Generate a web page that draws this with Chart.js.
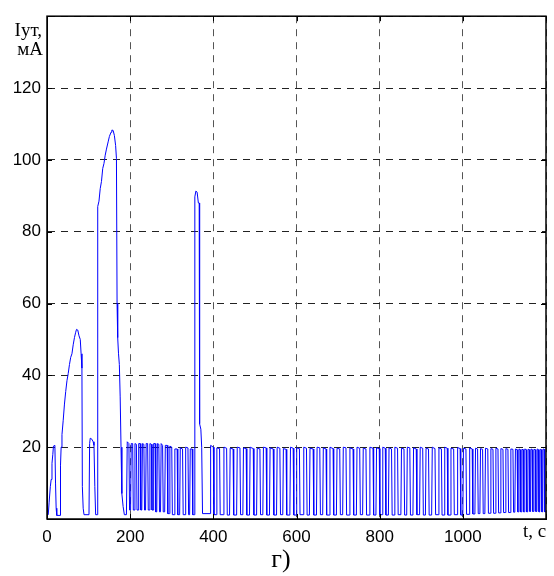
<!DOCTYPE html>
<html>
<head>
<meta charset="utf-8">
<script src="https://cdn.jsdelivr.net/npm/chart.js@4.4.1/dist/chart.umd.min.js"></script>
<style>
    html, body { margin: 0; padding: 0; background: #fff; }
    #wrap { width: 554px; height: 576px; }
</style>
</head>
<body>
<div id="wrap"><canvas id="currentChart" width="554" height="576"></canvas></div>
<script>
var xTicks = [0, 200, 400, 600, 800, 1000, 1200];
var yTicks = [0, 20, 40, 60, 80, 100, 120, 140];
var yAxisLabel = ["Iут,", "мА"];
var xAxisLabel = "t, c";
var panelLabel = "г)";

// time, s  /  current, mA (one row ~ one pulse)
var timeS = [
    0, 3, 5, 8, 10, 12, 14, 15.5, 19, 20.5, 22, 23.5,
    31.5, 32.5, 34, 36, 39, 42, 45, 48, 51, 54, 57, 60, 63, 66, 69, 71, 74, 77, 80, 82, 84, 85, 87, 89,
    101, 102.5, 104, 108, 111, 113, 115, 117, 121,
    122, 125, 128, 131, 134, 137, 140, 143, 147, 150, 154, 156, 159, 162, 165, 167, 168.5, 170, 172, 174, 176, 178, 180, 183, 186,
    191, 193, 197, 198.5,
    201, 202.5, 206, 207.5,
    210, 211.5, 215, 216.5,
    219, 220.5, 224, 225.5,
    228, 229.5, 233, 234.5,
    237, 238.5, 242, 243.5,
    246, 247.5, 251, 252.5,
    255, 256.5, 260, 261.5,
    264, 265.5, 269, 270.5,
    273, 274.5, 278, 279.5,
    283, 284.5, 289, 290.5,
    294, 295.5, 300, 301.5,
    306, 307.5, 313, 314.5,
    319, 320.5, 326, 327.5,
    332, 333.5, 339, 340.5,
    343, 344.5, 349, 350.5,
    354, 355.5, 358, 361, 364, 366, 367, 370, 372, 374,
    392, 393.5, 400, 401.5,
    407, 408.5, 415, 416.5,
    424, 425.5, 432, 433.5,
    439, 440.5, 447.5, 449,
    456, 457.5, 464, 465.5,
    471, 472.5, 479, 480.5,
    487, 488.5, 496, 497.5,
    504, 505.5, 512, 513.5,
    519, 520.5, 527, 528.5,
    535, 536.5, 544, 545.5,
    552, 553.5, 560, 561.5,
    567, 568.5, 575, 576.5,
    584, 585.5, 592, 593.5,
    599, 600.5, 607, 608.5,
    616, 617.5, 624, 625.5,
    631, 632.5, 640, 641.5,
    648, 649.5, 656, 657.5,
    663, 664.5, 671, 672.5,
    679, 680.5, 688, 689.5,
    696, 697.5, 704, 705.5,
    711, 712.5, 719, 720.5,
    727, 728.5, 736, 737.5,
    744, 745.5, 752, 753.5,
    759, 760.5, 767, 768.5,
    775, 776.5, 784, 785.5,
    791, 792.5, 799, 800.5,
    806, 807.5, 813.5, 815,
    821, 822.5, 828.5, 830,
    835, 836.5, 843, 844.5,
    851, 852.5, 858.5, 860,
    865, 866.5, 872.5, 874,
    880, 881.5, 888, 889.5,
    896, 897.5, 903.5, 905,
    910, 911.5, 917.5, 919,
    925, 926.5, 933, 934.5,
    941, 942.5, 948.5, 950,
    955, 956.5, 962.5, 964,
    970, 971.5, 978, 979.5,
    986, 987.5, 993.5, 995,
    1000, 1001.5, 1007.5, 1009,
    1015, 1016.5, 1022.5, 1024,
    1029, 1030.5, 1035.5, 1037,
    1041, 1042.5, 1047.5, 1049,
    1053, 1054.5, 1060, 1061.5,
    1066, 1067.5, 1072.5, 1074,
    1078, 1079.5, 1084.5, 1086,
    1090, 1091.5, 1096.5, 1098,
    1102, 1103.5, 1108.5, 1110,
    1114, 1115.5, 1120.5, 1122,
    1125, 1126.5, 1130.5, 1132,
    1134, 1135, 1138, 1139,
    1141, 1142, 1145, 1146,
    1148, 1149, 1152.5, 1153.5,
    1156, 1157, 1160, 1161,
    1163, 1164, 1167, 1168,
    1170, 1171, 1174.5, 1175.5,
    1178, 1179, 1182, 1183,
    1185, 1186, 1189, 1190,
    1192, 1193, 1196, 1197,
    1200
];
var currentMA = [
    1.0, 1.2, 4.5, 9, 11, 15.5, 18, 20.3, 20.5, 10, 3, 1,
    1, 15, 20, 23.5, 27.5, 32, 35.5, 38.5, 40.5, 43, 45, 46, 48.5, 50.5, 52, 52.8, 52.6, 51, 50, 46, 42, 9, 3, 1.2,
    1.2, 21, 22.5, 22.2, 21.5, 20.5, 9, 1.2, 1.2,
    87, 88.5, 92, 94, 97.6, 99, 101.3, 103, 105, 106.5, 107.7, 108.3, 108.2, 106.8, 104, 100.4, 60, 50.5, 46, 43, 34, 20, 7.1, 3.5, 1.2,
    1.2, 21.5, 21, 2.5,
    2.5, 21, 21, 2.5,
    2.5, 21, 20.8, 2.5,
    2.5, 21, 21, 2.5,
    2.5, 21, 20.8, 2.5,
    2.5, 21, 21, 2.5,
    2.5, 21, 20.8, 2.5,
    2.5, 21, 21, 2,
    2, 21, 20.8, 2,
    2, 21, 20.5, 2,
    2, 20.5, 20.5, 1.5,
    1.5, 20.3, 20, 1.2,
    1.2, 19.5, 19.5, 1.2,
    1.2, 19.8, 19.5, 1.2,
    1.2, 20, 19.8, 1.2,
    1.2, 19.5, 19.5, 1.2,
    1.2, 89.7, 91.3, 91, 88, 88, 26.5, 25, 20, 1.5,
    1.5, 20.5, 20, 1.2,
    1.2, 19.8, 19.6, 1.2,
    1.2, 20, 19.7, 1.1,
    1.1, 19.7, 19.5, 1.1,
    1.1, 20, 19.8, 1.2,
    1.2, 19.8, 19.6, 1.1,
    1.1, 20, 19.6, 1.1,
    1.1, 19.7, 19.5, 1.2,
    1.2, 20, 19.8, 1.1,
    1.1, 19.8, 19.5, 1.1,
    1.1, 20, 19.7, 1.2,
    1.2, 19.6, 19.4, 1.1,
    1.1, 20, 19.7, 1.1,
    1.1, 19.8, 19.6, 1.2,
    1.2, 20, 19.7, 1.1,
    1.1, 19.7, 19.5, 1.1,
    1.1, 20, 19.8, 1.2,
    1.2, 19.8, 19.5, 1.1,
    1.1, 20, 19.6, 1.1,
    1.1, 19.7, 19.5, 1.2,
    1.2, 20, 19.8, 1.1,
    1.1, 19.8, 19.5, 1.1,
    1.1, 20, 19.7, 1.2,
    1.2, 19.7, 19.5, 1.1,
    1.1, 20, 19.7, 1.1,
    1.1, 19.8, 19.6, 1.2,
    1.2, 20, 19.7, 1.1,
    1.1, 19.8, 19.5, 1.1,
    1.1, 20, 19.7, 1.2,
    1.2, 19.7, 19.5, 1.1,
    1.1, 20, 19.8, 1.1,
    1.1, 19.8, 19.5, 1.2,
    1.2, 20, 19.7, 1.1,
    1.1, 19.7, 19.5, 1.1,
    1.1, 20, 19.6, 1.2,
    1.2, 19.8, 19.5, 1.1,
    1.1, 20, 19.7, 1.1,
    1.1, 19.7, 19.5, 1.2,
    1.2, 19.9, 19.6, 1.1,
    1.1, 19.7, 19.5, 1.3,
    1.3, 19.8, 19.5, 1.4,
    1.4, 19.7, 19.5, 1.5,
    1.5, 19.6, 19.4, 1.5,
    1.5, 19.7, 19.5, 1.6,
    1.6, 19.6, 19.4, 1.6,
    1.6, 19.7, 19.5, 1.7,
    1.7, 19.6, 19.4, 1.8,
    1.8, 19.6, 19.4, 1.8,
    1.8, 19.5, 19.4, 1.9,
    1.9, 19.5, 19.3, 2,
    2, 19.5, 19.3, 2,
    2, 19.4, 19.3, 2,
    2, 19.5, 19.3, 2,
    2, 19.4, 19.3, 2.1,
    2.1, 19.5, 19.3, 2.1,
    2.1, 19.4, 19.3, 2.1,
    2.1, 19.5, 19.3, 2,
    2, 19.4, 19.3, 2,
    2, 19.5, 19.4, 2,
    2
];

var curvePoints = [];
for (var i = 0; i < timeS.length; i++) {
    curvePoints.push({ x: timeS[i], y: currentMA[i] });
}

// box round the plot, inward tick marks and the free-standing labels
var framePlugin = {
    id: 'frame',
    afterDraw: function (chart) {
        var ctx = chart.ctx;
        var a = chart.chartArea;
        var xs = chart.scales.x;
        var ys = chart.scales.y;
        ctx.save();
        ctx.strokeStyle = '#000';
        ctx.lineWidth = 1.5;
        ctx.strokeRect(a.left, a.top, a.right - a.left, a.bottom - a.top);

        ctx.lineWidth = 1;
        ctx.beginPath();
        xTicks.forEach(function (v) {
            var px = Math.round(xs.getPixelForValue(v)) + 0.5;
            ctx.moveTo(px, a.bottom); ctx.lineTo(px, a.bottom - 5);
            ctx.moveTo(px, a.top); ctx.lineTo(px, a.top + 5);
        });
        yTicks.forEach(function (v) {
            var py = Math.round(ys.getPixelForValue(v)) + 0.5;
            ctx.moveTo(a.left, py); ctx.lineTo(a.left + 5, py);
            ctx.moveTo(a.right, py); ctx.lineTo(a.right - 5, py);
        });
        ctx.stroke();

        ctx.fillStyle = '#000';
        ctx.font = '19px "Liberation Serif", "DejaVu Serif", serif';
        ctx.textAlign = 'right';
        ctx.textBaseline = 'alphabetic';
        ctx.fillText(yAxisLabel[0], 42, 36);
        ctx.fillText(yAxisLabel[1], 43, 55);
        ctx.textAlign = 'left';
        ctx.fillText(xAxisLabel, 523, 537);
        ctx.font = '26px "Liberation Serif", "DejaVu Serif", serif';
        ctx.textAlign = 'center';
        ctx.fillText(panelLabel, 281, 567);
        ctx.restore();
    }
};

var currentChart = new Chart(document.getElementById('currentChart'), {
    type: 'line',
    data: {
        datasets: [{
            label: 'Iут',
            data: curvePoints,
            borderColor: '#0000ff',
            borderWidth: 1,
            pointRadius: 0,
            tension: 0,
            fill: false
        }]
    },
    options: {
        responsive: false,
        animation: false,
        layout: {
            padding: { top: 14, right: 2, left: 0, bottom: 0 }
        },
        plugins: {
            legend: { display: false },
            tooltip: { enabled: false }
        },
        scales: {
            x: {
                type: 'linear',
                min: 0,
                max: 1200,
                afterBuildTicks: function (scale) {
                    scale.ticks = xTicks.map(function (v) { return { value: v }; });
                },
                afterFit: function (scale) { scale.height = 57; },
                grid: {
                    color: '#555',
                    lineWidth: 1,
                    drawTicks: false
                },
                border: { display: true, color: '#000', width: 1, dash: [7, 6] },
                ticks: {
                    autoSkip: false,
                    maxRotation: 0,
                    padding: 8,
                    color: '#000',
                    font: { size: 17, family: '"Liberation Sans", Arial, sans-serif' },
                    callback: function (v) { return v === 1200 ? '' : v; }
                }
            },
            y: {
                min: 0,
                max: 140,
                afterBuildTicks: function (scale) {
                    scale.ticks = yTicks.map(function (v) { return { value: v }; });
                },
                afterFit: function (scale) { scale.width = 47; },
                grid: {
                    color: '#222',
                    lineWidth: 1,
                    drawTicks: false
                },
                border: { display: true, color: '#000', width: 1, dash: [7, 6] },
                ticks: {
                    autoSkip: false,
                    padding: 6,
                    color: '#000',
                    font: { size: 17, family: '"Liberation Sans", Arial, sans-serif' },
                    callback: function (v) { return (v === 0 || v === 140) ? '' : v; }
                }
            }
        }
    },
    plugins: [framePlugin]
});
</script>
</body>
</html>
